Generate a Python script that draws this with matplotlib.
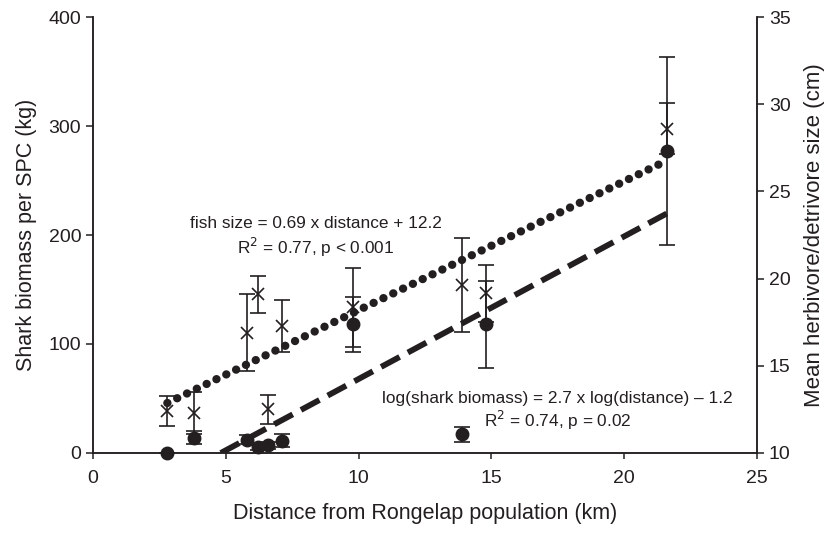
import matplotlib.pyplot as plt
import numpy as np

plt.rcParams['font.family'] = ['Liberation Sans', 'DejaVu Sans']

# sites: distance from Rongelap population (km)
distance = np.array([2.8, 3.8, 5.8, 6.2, 6.6, 7.1, 9.8, 13.9, 14.8, 21.6])
# shark biomass per SPC (kg), left axis
shark = np.array([0, 14, 12, 5, 7, 11, 118, 17, 118, 277])
shark_err = np.array([0, 6, 4, 2, 3, 6, 25, 7, 40, 86])
# mean herbivore/detrivore size (cm), right axis
fish = np.array([12.4, 12.3, 16.9, 19.1, 12.5, 17.3, 18.35, 19.65, 19.15, 28.6])
fish_err = np.array([0.85, 1.2, 2.2, 1.05, 0.85, 1.5, 2.25, 2.7, 1.65, 1.45])

ink = '#231f20'

fig = plt.figure(figsize=(8.33, 5.51), dpi=100)
ax = fig.add_axes([0.1116, 0.178, 0.7972, 0.791])
ax2 = ax.twinx()

# linear fits drawn over the sampled range
xs = np.array([distance.min(), distance.max()])
b1 = np.polyfit(distance, fish, 1)
ax2.plot(xs, np.polyval(b1, xs), color=ink, lw=6,
         linestyle=(0, (0.01, 1.3)), dash_capstyle='round', zorder=2)
b2 = np.polyfit(distance, shark, 1)
ax.plot(xs, np.polyval(b2, xs), color=ink, lw=4.2,
        linestyle=(0, (3.6, 1.6)), zorder=2)

ax2.errorbar(distance, fish, yerr=fish_err, fmt='x', color=ink,
             ms=8, mew=1.2, elinewidth=1.2, capsize=5.5, capthick=1.2, zorder=3)
ax.errorbar(distance, shark, yerr=shark_err, fmt='o', color=ink,
            ms=9, elinewidth=1.2, capsize=5.5, capthick=1.2, zorder=3, clip_on=False)

ax.set_xlim(0, 25)
ax.set_ylim(0, 400)
ax2.set_ylim(10, 35)
ax.set_xticks(np.arange(0, 26, 5))
ax.set_yticks(np.arange(0, 401, 100))
ax2.set_yticks(np.arange(10, 36, 5))

for a in (ax, ax2):
    a.spines['top'].set_visible(False)
    for s in a.spines.values():
        s.set_linewidth(1.1)
        s.set_color(ink)
    a.tick_params(labelsize=14, width=1.1, length=5, direction='out', colors=ink)
ax.tick_params(axis='x', length=4, pad=8)

ax.set_xlabel('Distance from Rongelap population (km)', fontsize=15.5, labelpad=12, color=ink)
ax.set_ylabel('Shark biomass per SPC (kg)', fontsize=15.5, labelpad=8, color=ink)
ax2.set_ylabel('Mean herbivore/detrivore size (cm)', fontsize=16, labelpad=10, color=ink)

ax.text(8.4, 211, 'fish size = 0.69 x distance + 12.2', ha='center', va='center',
        fontsize=12.4, color=ink)
ax.text(8.4, 189, r'R$^2$ = 0.77, p < 0.001', ha='center', va='center',
        fontsize=12.4, color=ink)
ax.text(17.5, 50, 'log(shark biomass) = 2.7 x log(distance) \u2013 1.2', ha='center',
        va='center', fontsize=12.4, color=ink)
ax.text(17.5, 30, r'R$^2$ = 0.74, p = 0.02', ha='center', va='center',
        fontsize=12.4, color=ink)

fig.savefig('out.png', dpi=100)
